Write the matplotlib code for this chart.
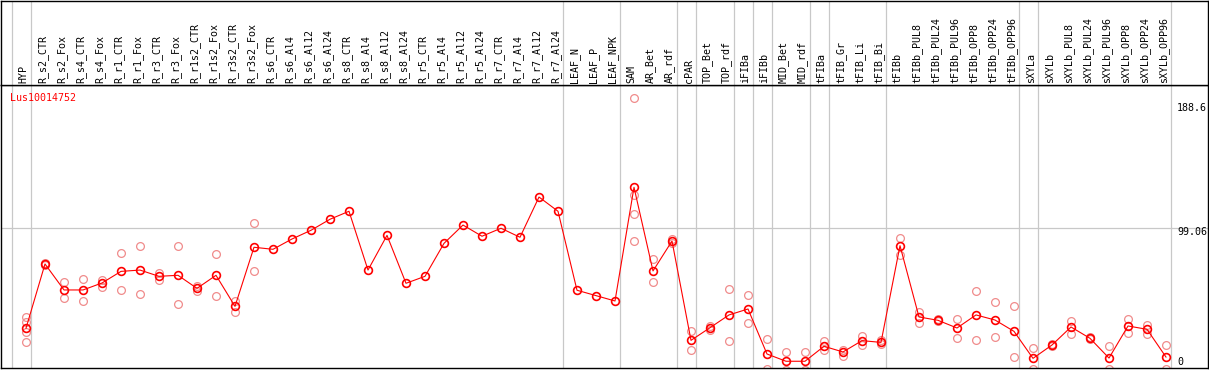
import matplotlib
matplotlib.use("Agg")
import matplotlib.pyplot as plt
from matplotlib.transforms import blended_transform_factory

labels = [
    "HYP",
    "R_s2_CTR", "R_s2_Fox", "R_s4_CTR", "R_s4_Fox", "R_r1_CTR", "R_r1_Fox",
    "R_r3_CTR", "R_r3_Fox", "R_r1s2_CTR", "R_r1s2_Fox", "R_r3s2_CTR", "R_r3s2_Fox",
    "R_s6_CTR", "R_s6_Al4", "R_s6_Al12", "R_s6_Al24",
    "R_s8_CTR", "R_s8_Al4", "R_s8_Al12", "R_s8_Al24",
    "R_r5_CTR", "R_r5_Al4", "R_r5_Al12", "R_r5_Al24",
    "R_r7_CTR", "R_r7_Al4", "R_r7_Al12", "R_r7_Al24",
    "LEAF_N", "LEAF_P", "LEAF_NPK",
    "SAM", "AR_Bet", "AR_rdf",
    "cPAR",
    "TOP_Bet", "TOP_rdf",
    "iFIBa",
    "iFIBb",
    "MID_Bet", "MID_rdf",
    "tFIBa",
    "tFIB_Gr", "tFIB_Li", "tFIB_Bi",
    "tFIBb", "tFIBb_PUL8", "tFIBb_PUL24", "tFIBb_PUL96",
    "tFIBb_OPP8", "tFIBb_OPP24", "tFIBb_OPP96",
    "sXYLa",
    "sXYLb", "sXYLb_PUL8", "sXYLb_PUL24", "sXYLb_PUL96",
    "sXYLb_OPP8", "sXYLb_OPP24", "sXYLb_OPP96",
]

means = [
    30.1,
    74.4, 56.5, 56.5, 61.3, 69.3, 70.2,
    65.9, 66.6, 57.6, 66.6, 45.2, 85.9,
    84.5, 91.6, 97.6, 105.2,
    110.7, 70.2, 94.1, 61.1,
    65.9, 88.6, 101.2, 93.5,
    99.0, 92.8, 120.5, 110.7,
    56.3, 52.6, 48.9,
    127.2, 69.6, 90.2,
    21.8,
    30.5, 39.3,
    43.4,
    12.4,
    7.4, 7.4,
    17.7,
    13.8, 21.6, 20.4,
    87.0, 37.9, 35.6, 30.3,
    39.3, 35.8, 28.0,
    9.4,
    18.6, 31.0, 23.2, 9.6,
    31.7, 29.4, 10.3,
]

replicates = [
    [37.7, 34.4, 27.8, 20.5],
    [75.0, 74.0], [61.8, 51.2], [63.8, 48.7], [63.4, 58.5], [81.7, 56.3], [86.6, 53.5],
    [68.0, 63.4], [86.6, 46.6], [59.2, 56.0], [81.1, 52.1], [49.1, 41.5], [102.4, 69.6],
    [], [], [], [],
    [], [], [], [],
    [], [], [], [],
    [], [], [], [],
    [], [], [],
    [188.5, 121.7, 108.6, 90.2], [77.6, 61.8], [91.5, 89.0],
    [28.2, 14.9],
    [32.0, 29.0], [57.2, 21.1],
    [52.8, 33.5],
    [22.7, 1.9],
    [13.6, 1.4], [13.6, 1.4],
    [21.1, 15.2],
    [15.4, 11.2], [25.0, 18.8], [22.0, 19.0],
    [92.5, 80.6], [41.3, 34.0], [36.5, 34.8], [36.3, 23.6],
    [55.6, 21.8], [48.0, 23.9], [45.5, 10.3],
    [16.3, 1.9],
    [19.0, 18.2], [35.1, 26.0], [24.0, 22.4], [17.9, 1.9],
    [36.3, 26.6], [32.4, 26.4], [18.6, 2.1],
]

# last column of each group, a grey line follows it
group_ends = [-1, 0, 28, 31, 34, 35, 37, 38, 39, 41, 42, 45, 52, 53, 60]
gene = "Lus10014752"
y_max = 188.6
y_mid = 99.06

W, H = 1209, 370
fig = plt.figure(figsize=(W / 100, H / 100), dpi=100)
mono = "DejaVu Sans Mono"
fs = 7.2

x = list(range(len(labels)))
xlim = ((1 - 26) / 19, (1208 - 26) / 19)

# plot area
ax = fig.add_axes([1 / W, 2 / H, 1207 / W, 283 / H])
ax.set_xlim(*xlim)
ax.set_ylim((372 - 368) / 1.452, (372 - 85) / 1.452)
ax.set_xticks([])
ax.set_yticks([])
for s in ax.spines.values():
    s.set_color("black")
    s.set_linewidth(1.0)

for g in group_ends:
    ax.axvline(g + 0.25, color="#c8c8c8", lw=0.9, zorder=0)
ax.axhline(y_mid, color="#c8c8c8", lw=0.9, zorder=0)

for i, reps in enumerate(replicates):
    if reps:
        ax.plot([i] * len(reps), reps, "o", mfc="none", mec="#f08c8c",
                ms=5.6, mew=0.9, clip_on=True, zorder=2)

ax.plot(x, means, "-", color="red", lw=0.8, zorder=3)
ax.plot(x, means, "o", mfc="none", mec="red", ms=5.6, mew=1.2, zorder=4)

tr = blended_transform_factory(ax.transData, ax.transData)
xl = (1177 - 26) / 19
ax.annotate(f"{y_max:g}", (xl, y_max), textcoords="offset pixels", xytext=(0, -9.4),
            ha="left", va="center", fontsize=fs, family=mono, annotation_clip=False)
ax.annotate(f"{y_mid:g}", (xl, y_mid), textcoords="offset pixels", xytext=(0, -4),
            ha="left", va="center", fontsize=fs, family=mono, annotation_clip=False)
ax.annotate("0", (xl, 0), textcoords="offset pixels", xytext=(0, 10.3),
            ha="left", va="center", fontsize=fs, family=mono, annotation_clip=False)

fig.text(10 / W, 1 - 97.7 / H, gene, color="red", fontsize=fs, family=mono,
         ha="left", va="center")

# header with sample names
hdr = fig.add_axes([1 / W, 285 / H, 1207 / W, 84.5 / H])
hdr.set_xlim(*xlim)
hdr.set_ylim(0, 85)
hdr.set_xticks([])
hdr.set_yticks([])
for s in hdr.spines.values():
    s.set_color("black")
    s.set_linewidth(1.0)
for g in group_ends:
    hdr.axvline(g + 0.25, color="#c8c8c8", lw=0.9, zorder=0)
for i, lab in enumerate(labels):
    hdr.text(i - 0.13, 2, lab, rotation=90, ha="center", va="bottom",
             fontsize=fs, family=mono, color="black")

fig.savefig("out.png", dpi=100)
